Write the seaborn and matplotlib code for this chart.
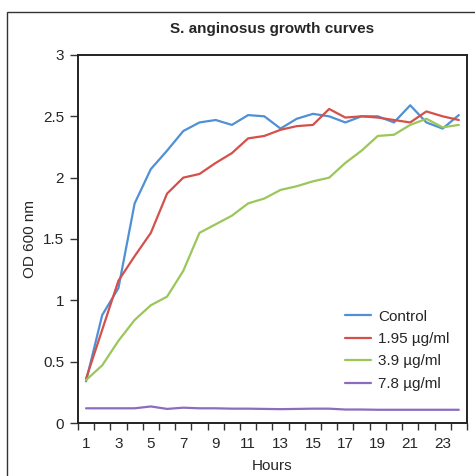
import numpy as np
import pandas as pd
import matplotlib
matplotlib.use("Agg")
import matplotlib.pyplot as plt
from matplotlib.patches import Rectangle
import seaborn as sns

hours = list(range(1, 25))
control = [0.34, 0.88, 1.10, 1.79, 2.07, 2.22, 2.38, 2.45, 2.47, 2.43, 2.51, 2.50,
           2.40, 2.48, 2.52, 2.50, 2.45, 2.50, 2.50, 2.45, 2.59, 2.45, 2.40, 2.51]
dose_195 = [0.36, 0.76, 1.16, 1.36, 1.55, 1.87, 2.00, 2.03, 2.12, 2.20, 2.32, 2.34,
            2.39, 2.42, 2.43, 2.56, 2.49, 2.50, 2.49, 2.47, 2.45, 2.54, 2.50, 2.47]
dose_39 = [0.35, 0.47, 0.67, 0.84, 0.96, 1.03, 1.24, 1.55, 1.62, 1.69, 1.79, 1.83,
           1.90, 1.93, 1.97, 2.00, 2.12, 2.22, 2.34, 2.35, 2.43, 2.48, 2.41, 2.43]
dose_78 = [0.12, 0.12, 0.12, 0.12, 0.135, 0.115, 0.125, 0.12, 0.12, 0.117, 0.117, 0.115,
           0.113, 0.115, 0.117, 0.117, 0.11, 0.11, 0.108, 0.108, 0.108, 0.108, 0.108, 0.108]

series_names = ["Control", "1.95 \u00b5g/ml", "3.9 \u00b5g/ml", "7.8 \u00b5g/ml"]
colors = ["#4f90d6", "#d3504b", "#9bc659", "#8b6cbf"]
y_ticks = [0, 0.5, 1, 1.5, 2, 2.5, 3]
y_labels = ["0", "0.5", "1", "1.5", "2", "2.5", "3"]
x_ticks = list(range(1, 24, 2))

df = pd.DataFrame({
    "Hours": hours * 4,
    "OD": control + dose_195 + dose_39 + dose_78,
    "group": sum([[n] * len(hours) for n in series_names], []),
})

sns.set_style("ticks")
plt.rcParams["font.family"] = ["Liberation Sans", "DejaVu Sans"]

fig = plt.figure(figsize=(4.75, 4.76), dpi=100)
ax = fig.add_axes([0.164, 0.1113, 0.819, 0.7732])

sns.lineplot(data=df, x="Hours", y="OD", hue="group", hue_order=series_names,
             palette=colors, linewidth=1.6, ax=ax)

ax.set_xlim(0.5, 24.5)
ax.set_ylim(0, 3)
ax.set_yticks(y_ticks)
ax.set_yticklabels(y_labels)
ax.set_xticks(x_ticks)
ax.set_xticks(np.arange(0.5, 25, 1), minor=True)
ax.tick_params(axis="x", which="major", length=0, pad=10, labelsize=11)
ax.tick_params(axis="x", which="minor", length=5, width=1, color="#333333")
ax.tick_params(axis="y", length=6, width=1, color="#333333", labelsize=11, pad=4)

for s in ax.spines.values():
    s.set_visible(True)
    s.set_linewidth(1.4)
    s.set_color("#222222")

ax.set_xlabel("Hours", fontsize=11, labelpad=6)
ax.set_ylabel("OD 600 nm", fontsize=11, labelpad=4)
ax.set_title("S. anginosus growth curves", fontsize=11, fontweight="bold", pad=16)

leg = ax.legend(loc="lower right", bbox_to_anchor=(0.99, 0.05), frameon=False,
                fontsize=11, handlelength=1.7, labelspacing=0.55, handletextpad=0.45)

fig.add_artist(Rectangle((0.0137, -0.1), 1.5, 1.074, transform=fig.transFigure,
                         fill=False, edgecolor="#333333", linewidth=1.0))

fig.savefig("out.png", dpi=100)
